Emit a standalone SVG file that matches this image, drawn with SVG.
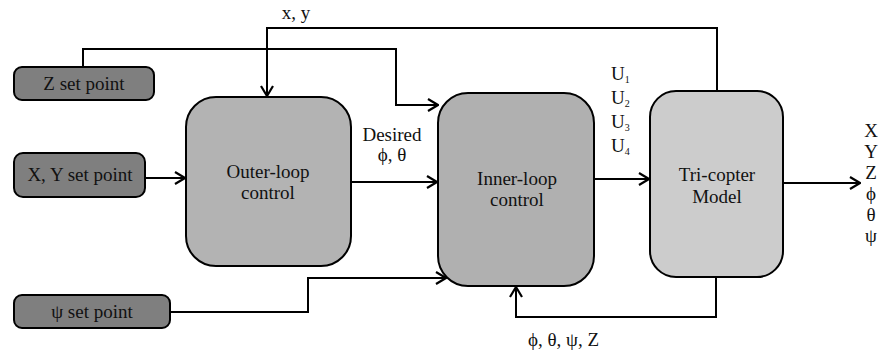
<svg xmlns="http://www.w3.org/2000/svg" width="878" height="354" viewBox="0 0 878 354">
  <style>
    .box { stroke: #000; stroke-width: 2; }
    .sp { fill: #7f7f7f; }
    .outer { fill: #b3b3b3; }
    .inner { fill: #b0b0b0; }
    .model { fill: #cccccc; }
    .wire { fill: none; stroke: #000; stroke-width: 2; }
    text { font-size: 19px; fill: #111; }
    .c { text-anchor: middle; }
    .sub { font-size: 10px; }
  </style>
  <defs>
    <marker id="arrow" markerWidth="12" markerHeight="14" refX="11" refY="7" orient="auto" markerUnits="userSpaceOnUse">
      <path d="M1,1 L11,7 L1,13" fill="none" stroke="#000" stroke-width="2.2"/>
    </marker>
  </defs>

  <rect width="878" height="354" fill="#fff"/>

  <g id="connectors">
    <!-- position feedback x, y from model to outer loop -->
    <path class="wire" d="M717,91 V28 H267 V96" marker-end="url(#arrow)"/>
    <!-- Z set point to inner loop -->
    <path class="wire" d="M83,67 V49 H396 V105 H438" marker-end="url(#arrow)"/>
    <!-- X, Y set point to outer loop -->
    <path class="wire" d="M145,178 H185" marker-end="url(#arrow)"/>
    <!-- desired attitude -->
    <path class="wire" d="M351,182 H437" marker-end="url(#arrow)"/>
    <!-- control inputs to model -->
    <path class="wire" d="M594,179 H649" marker-end="url(#arrow)"/>
    <!-- model outputs -->
    <path class="wire" d="M783,183 H860" marker-end="url(#arrow)"/>
    <!-- psi set point to inner loop -->
    <path class="wire" d="M170,312 H308 V278 H446" marker-end="url(#arrow)"/>
    <!-- attitude / altitude feedback -->
    <path class="wire" d="M716,277 V317 H516 V287" marker-end="url(#arrow)"/>
  </g>

  <g font-family="Liberation Serif, DejaVu Serif, serif">
  <g id="z-set-point">
    <rect class="box sp" x="14" y="67" width="140" height="33" rx="8"/>
    <text class="c" x="84" y="90">Z set point</text>
  </g>
  <g id="xy-set-point">
    <rect class="box sp" x="14" y="153" width="131" height="44" rx="9"/>
    <text class="c" x="80" y="181">X, Y set point</text>
  </g>
  <g id="psi-set-point">
    <rect class="box sp" x="14" y="295" width="156" height="33" rx="8"/>
    <text class="c" x="92" y="318">ψ set point</text>
  </g>

  <g id="outer-loop">
    <rect class="box outer" x="186" y="97" width="165" height="169" rx="30"/>
    <text class="c" x="268" y="178">Outer-loop</text>
    <text class="c" x="268" y="199">control</text>
  </g>
  <g id="inner-loop">
    <rect class="box inner" x="438" y="93" width="156" height="193" rx="30"/>
    <text class="c" x="517" y="185">Inner-loop</text>
    <text class="c" x="517" y="206">control</text>
  </g>
  <g id="tricopter-model">
    <rect class="box model" x="650" y="91" width="133" height="186" rx="26"/>
    <text class="c" x="717" y="181">Tri-copter</text>
    <text class="c" x="717" y="203">Model</text>
  </g>

  <g id="labels">
    <text class="c" x="296" y="19">x, y</text>
    <text class="c" x="392" y="141">Desired</text>
    <text class="c" x="392" y="161">ϕ, θ</text>
    <text x="611" y="80">U<tspan class="sub" dy="3">1</tspan></text>
    <text x="611" y="104">U<tspan class="sub" dy="3">2</tspan></text>
    <text x="611" y="128">U<tspan class="sub" dy="3">3</tspan></text>
    <text x="611" y="152">U<tspan class="sub" dy="3">4</tspan></text>
    <text class="c" x="871" y="137">X</text>
    <text class="c" x="871" y="158">Y</text>
    <text class="c" x="871" y="179">Z</text>
    <text class="c" x="871" y="200">ϕ</text>
    <text class="c" x="871" y="221">θ</text>
    <text class="c" x="871" y="242">ψ</text>
    <text x="528" y="346">ϕ, θ, ψ, Z</text>
  </g>
  </g>
</svg>
